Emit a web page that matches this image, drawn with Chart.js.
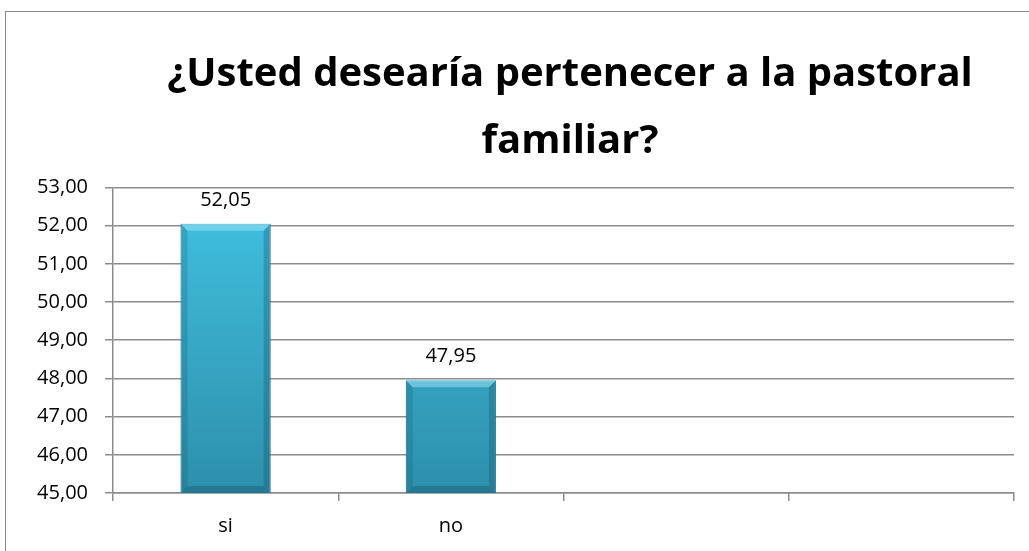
<!DOCTYPE html>
<html>
<head>
<meta charset="utf-8">
<script src="https://cdn.jsdelivr.net/npm/chart.js@4"></script>
<style>
  html, body { margin:0; padding:0; background:#fff; overflow:hidden; width:1029px; height:551px; }
  #frame { position:absolute; left:5px; top:11px; width:1100px; height:600px; border:1.5px solid #8c8c8c; box-sizing:border-box; }
  #wrap { position:absolute; left:0; top:0; width:1140px; height:551px; }
</style>
</head>
<body>
<div id="frame"></div>
<div id="wrap"><canvas id="c" width="1140" height="551"></canvas></div>
<script>
const titleLines = ['¿Usted desearía pertenecer a la pastoral', 'familiar?'];
const categories = ['si', 'no', '', ''];
const values = [52.05, 47.95, null, null];
const yMin = 45, yMax = 53, yStep = 1;

const fmt = v => Number(v).toFixed(2).replace('.', ',');

const barGradient = (ctx) => {
  const chart = ctx.chart;
  const area = chart.chartArea;
  if (!area) return '#36aacb';
  const g = chart.ctx.createLinearGradient(0, area.top, 0, area.bottom);
  g.addColorStop(0, '#42c2e3');
  g.addColorStop(1, '#2d8fab');
  return g;
};

const labelPlugin = {
  id: 'valueLabels',
  afterDatasetsDraw(chart) {
    const c = chart.ctx;
    const meta = chart.getDatasetMeta(0);
    c.save();
    c.font = '20px "Open Sans"';
    c.fillStyle = '#000';
    c.textAlign = 'center';
    c.textBaseline = 'alphabetic';
    meta.data.forEach((bar, i) => {
      const v = values[i];
      if (v == null) return;
      c.fillText(fmt(v), bar.x, bar.y - 18);
    });
    c.restore();
  }
};

const bevelPlugin = {
  id: 'bevel',
  afterDatasetDraw(chart) {
    const c = chart.ctx;
    const area = chart.chartArea;
    const meta = chart.getDatasetMeta(0);
    c.save();
    meta.data.forEach((bar, i) => {
      if (values[i] == null) return;
      const w = bar.width, x0 = bar.x - w / 2, x1 = bar.x + w / 2, y0 = bar.y, y1 = Math.min(bar.base, area.bottom);
      const b = 7;
      c.fillStyle = 'rgba(20,80,100,0.22)';
      c.beginPath(); c.moveTo(x0, y0); c.lineTo(x0 + b, y0 + b); c.lineTo(x0 + b, y1 - b); c.lineTo(x0, y1); c.closePath(); c.fill();
      c.fillStyle = 'rgba(20,80,100,0.3)';
      c.beginPath(); c.moveTo(x1, y0); c.lineTo(x1 - b, y0 + b); c.lineTo(x1 - b, y1 - b); c.lineTo(x1, y1); c.closePath(); c.fill();
      c.fillStyle = 'rgba(170,238,255,0.45)';
      c.beginPath(); c.moveTo(x0, y0); c.lineTo(x1, y0); c.lineTo(x1 - b, y0 + b); c.lineTo(x0 + b, y0 + b); c.closePath(); c.fill();
      c.fillStyle = 'rgba(20,70,90,0.3)';
      c.beginPath(); c.moveTo(x0, y1); c.lineTo(x1, y1); c.lineTo(x1 - b, y1 - b); c.lineTo(x0 + b, y1 - b); c.closePath(); c.fill();
    });
    c.restore();
  }
};

new Chart(document.getElementById('c'), {
  type: 'bar',
  data: {
    labels: categories,
    datasets: [{
      data: values,
      backgroundColor: barGradient,
      borderColor: '#2a8aa6',
      borderWidth: 1,
      barPercentage: 0.4,
      categoryPercentage: 1.0
    }]
  },
  options: {
    responsive: false,
    animation: false,
    devicePixelRatio: 1,
    layout: { padding: { left: 0, right: 0, top: 0, bottom: 0 } },
    plugins: {
      legend: { display: false },
      tooltip: { enabled: false },
      title: {
        display: true,
        text: titleLines,
        color: '#000',
        font: { family: '"Open Sans"', size: 40, weight: 'bold', lineHeight: 1.68 },
        padding: { top: 41, bottom: 12 }
      }
    },
    scales: {
      x: {
        grid: { offset: true, drawOnChartArea: false, drawTicks: true, tickLength: 8, color: '#8c8c8c', lineWidth: 1.5 },
        border: { color: '#8c8c8c', width: 1.5 },
        ticks: { color: '#000', font: { family: '"Open Sans"', size: 20, lineHeight: 1.0 }, padding: 15 }
      },
      y: {
        min: yMin, max: yMax,
        afterFit(s) { s.width = 113; },
        grid: { color: '#8c8c8c', lineWidth: 1.5, tickLength: 8 },
        border: { color: '#8c8c8c', width: 1.5 },
        ticks: { stepSize: yStep, color: '#000', font: { family: '"Open Sans"', size: 20 }, padding: 17, callback: v => fmt(v) }
      },
      spacer: {
        type: 'linear',
        position: 'right',
        display: true,
        afterFit(s) { s.width = 126; },
        grid: { display: false, drawTicks: false },
        border: { display: false },
        ticks: { display: false }
      }
    }
  },
  plugins: [labelPlugin, bevelPlugin]
});
</script>
</body>
</html>
